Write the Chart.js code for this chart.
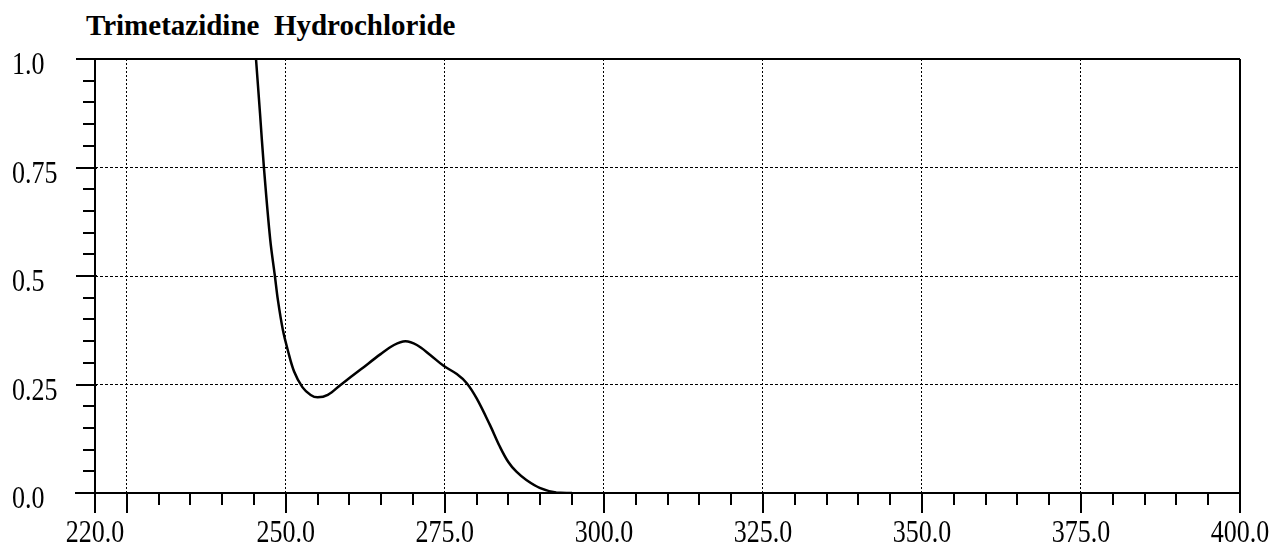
<!DOCTYPE html>
<html lang="en">
<head>
  <meta charset="UTF-8" />
  <title>Trimetazidine Hydrochloride</title>
  <script src="https://cdn.jsdelivr.net/npm/chart.js"></script>
  <style>
    body {
      margin: 0;
      background: #fff;
      width: 1277px;
      height: 546px;
      position: relative;
      overflow: hidden;
    }
    .title {
      position: absolute;
      left: 86px;
      top: 11px;
      font-family: 'Liberation Serif', serif;
      font-weight: bold;
      font-size: 29px;
      line-height: 29px;
      color: #000;
      white-space: pre;
    }
    canvas {
      position: absolute;
      left: 0;
      top: 0;
    }
  </style>
</head>
<body>
  <div class="title">Trimetazidine  Hydrochloride</div>
  <canvas id="spectrum" width="1277" height="546"></canvas>

  <script>
    // absorbance spectrum (wavelength in nm)
    const wavelength = [245.0, 245.31, 245.94, 246.56, 247.55, 248.28, 248.75, 249.53, 250.31, 251.3, 252.6, 253.9,
      255.0, 256.6, 258.6, 261.8, 264.9, 267.0, 268.8, 270.6, 272.7, 274.8, 276.88, 278.44,
      280.0, 282.08, 283.64, 284.95, 286.25, 287.81, 289.9, 292.5, 295.0];
    const absorbance = [1.06, 1.0, 0.875, 0.749, 0.583, 0.5, 0.445, 0.376, 0.329, 0.28, 0.244, 0.226,
      0.2205, 0.226, 0.249, 0.285, 0.32, 0.341, 0.3495, 0.341, 0.318, 0.293, 0.274, 0.253,
      0.218, 0.157, 0.107, 0.072, 0.049, 0.030, 0.012, 0.001, 0.0];

    // labelled ticks
    const xLabelValues = [220, 250, 275, 300, 325, 350, 375, 400];
    const xLabelText = ['220.0', '250.0', '275.0', '300.0', '325.0', '350.0', '375.0', '400.0'];
    const yLabelValues = [0, 0.25, 0.5, 0.75, 1.0];
    const yLabelText = ['0.0', '0.25', '0.5', '0.75', '1.0'];

    // dotted grid positions and long tick marks
    const xGridValues = [225, 250, 275, 300, 325, 350, 375];
    const xMajorTicks = [220, 225, 250, 275, 300, 325, 350, 375, 400];
    const yGridValues = [0.25, 0.5, 0.75];

    const near = (a, b) => Math.abs(a - b) < 1e-6;
    const inList = (list, v) => list.some(x => near(x, v));

    const points = wavelength.map((w, i) => ({ x: w, y: absorbance[i] }));

    // tall, narrow tick label lettering
    function tallText(ctx, text, x, y, align) {
      ctx.save();
      ctx.translate(x, y);
      ctx.scale(1, 1.25);
      ctx.textAlign = align;
      ctx.textBaseline = 'alphabetic';
      ctx.fillText(text, 0, 0);
      ctx.restore();
    }

    // axes frame, tick marks and tick labels, drawn over the plot
    const framePlugin = {
      id: 'frame',
      afterDraw(chart) {
        const { ctx, chartArea: a, scales: { x, y } } = chart;
        ctx.save();
        ctx.strokeStyle = '#000';
        ctx.lineWidth = 2;
        ctx.setLineDash([]);
        ctx.beginPath();
        ctx.moveTo(a.left - 19, a.top); ctx.lineTo(a.right, a.top);
        ctx.moveTo(a.left - 20, a.bottom); ctx.lineTo(a.right, a.bottom);
        ctx.moveTo(a.left, a.top); ctx.lineTo(a.left, a.bottom);
        ctx.moveTo(a.right, a.top); ctx.lineTo(a.right, a.bottom);
        x.ticks.forEach(t => {
          const px = Math.round(x.getPixelForValue(t.value));
          const len = inList(xMajorTicks, t.value) ? 20 : 12;
          ctx.moveTo(px, a.bottom); ctx.lineTo(px, a.bottom + len);
        });
        y.ticks.forEach(t => {
          const py = Math.round(y.getPixelForValue(t.value));
          if (inList(yLabelValues, t.value)) {
            ctx.moveTo(a.left - 19, py); ctx.lineTo(a.left + 2, py);
          } else {
            ctx.moveTo(a.left - 12, py); ctx.lineTo(a.left, py);
          }
        });
        ctx.stroke();

        ctx.fillStyle = '#000';
        ctx.font = "26px 'Liberation Serif', serif";
        xLabelValues.forEach((v, i) => {
          tallText(ctx, xLabelText[i], x.getPixelForValue(v), a.bottom + 49, 'center');
        });
        yLabelValues.forEach((v, i) => {
          tallText(ctx, yLabelText[i], 12, y.getPixelForValue(v) + 15, 'left');
        });
        ctx.restore();
      }
    };

    const ctx = document.getElementById('spectrum').getContext('2d');

    new Chart(ctx, {
      type: 'line',
      data: {
        datasets: [{
          label: 'Trimetazidine Hydrochloride',
          data: points,
          borderColor: '#000',
          borderWidth: 2.5,
          pointRadius: 0,
          fill: false,
          tension: 0.35
        }]
      },
      options: {
        responsive: false,
        animation: false,
        events: [],
        layout: {
          padding: { left: 12, right: 37, top: 59, bottom: 0 }
        },
        plugins: {
          legend: { display: false },
          tooltip: { enabled: false },
          title: { display: false }
        },
        scales: {
          x: {
            type: 'linear',
            min: 220,
            max: 400,
            afterFit(scale) { scale.height = 53; },
            afterBuildTicks(scale) {
              // every 5 nm
              const ticks = [];
              for (let v = 220; v <= 400; v += 5) ticks.push({ value: v });
              scale.ticks = ticks;
            },
            ticks: { display: false },
            grid: {
              drawTicks: false,
              lineWidth: 1,
              color: c => (c.tick && inList(xGridValues, c.tick.value)) ? '#000' : 'rgba(0,0,0,0)'
            },
            border: { display: false, dash: [2, 2] }
          },
          y: {
            type: 'linear',
            min: 0,
            max: 1,
            afterFit(scale) { scale.width = 83; },
            afterBuildTicks(scale) {
              // every 0.05
              const ticks = [];
              for (let i = 0; i <= 20; i++) ticks.push({ value: i / 20 });
              scale.ticks = ticks;
            },
            ticks: { display: false },
            grid: {
              drawTicks: false,
              lineWidth: 1,
              color: c => (c.tick && inList(yGridValues, c.tick.value)) ? '#000' : 'rgba(0,0,0,0)'
            },
            border: { display: false, dash: [3, 2] }
          }
        }
      },
      plugins: [framePlugin]
    });
  </script>
</body>
</html>
